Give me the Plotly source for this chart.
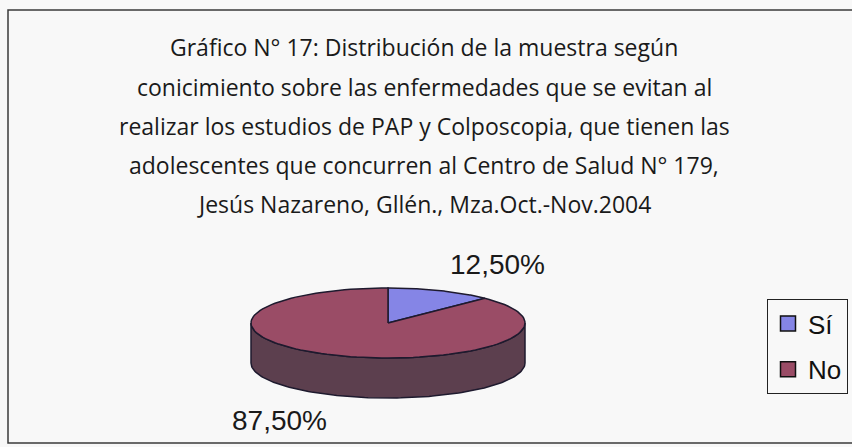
import numpy as np
import plotly.graph_objects as go

# ---- data ----
categories = ["Sí", "No"]
values = [12.5, 87.5]
title_lines = [
    "Gráfico N° 17: Distribución de la muestra según",
    "conicimiento sobre las enfermedades que se evitan al",
    "realizar los estudios de PAP y Colposcopia, que tienen las",
    "adolescentes que concurren al Centro de Salud N° 179,",
    "Jesús Nazareno, Gllén., Mza.Oct.-Nov.2004",
]

# ---- style / layout ----
W, H = 852, 447
top_colors = ["#8585e6", "#9a4c66"]
side_colors = ["#50508c", "#5c3f4e"]
edge = "#1e1a2e"
cx, cy, a, b, depth = 388, 323, 137, 35, 40
label_xy = [(497, 264), (279, 420)]
title_y = [47, 86.5, 126, 165, 204]
bg = "#f8f8f8"

total = sum(values)
angles = []
s = 0.0
for v in values:
    e = s + 360.0 * v / total
    angles.append((s, e))
    s = e


def arc(t1, t2, dy=0.0, n=120):
    th = np.radians(np.linspace(t1, t2, n))
    return list(cx + a * np.sin(th)), list(cy - b * np.cos(th) + dy)


fig = go.Figure()

# side walls (front half only)
for i, (t1, t2) in enumerate(angles):
    lo, hi = max(t1, 90), min(t2, 270)
    if hi > lo:
        x1, y1 = arc(lo, hi)
        x2, y2 = arc(hi, lo, depth)
        fig.add_trace(go.Scatter(
            x=x1 + x2 + [x1[0]], y=y1 + y2 + [y1[0]], mode="lines",
            fill="toself", fillcolor=side_colors[i],
            line=dict(color=edge, width=1.5), showlegend=False, hoverinfo="skip"))

# top faces
for i, (t1, t2) in enumerate(angles):
    xa, ya = arc(t1, t2)
    fig.add_trace(go.Scatter(
        x=[cx] + xa + [cx], y=[cy] + ya + [cy], mode="lines",
        fill="toself", fillcolor=top_colors[i],
        line=dict(color=edge, width=1.5), showlegend=False,
        hovertemplate=f"{categories[i]}: {values[i]:.2f}%<extra></extra>"))

# legend entries
for i, c in enumerate(categories):
    fig.add_trace(go.Scatter(
        x=[None], y=[None], mode="markers", name=c, legendgroup=c,
        marker=dict(symbol="square", size=15, color=top_colors[i],
                    line=dict(color="#111", width=1.5))))

# percentage labels
for i, v in enumerate(values):
    txt = f"{v:.2f}".replace(".", ",") + "%"
    fig.add_annotation(x=label_xy[i][0], y=label_xy[i][1], text=txt,
                       showarrow=False, xanchor="center", yanchor="middle",
                       font=dict(family="Arial, Liberation Sans", size=28, color="#1a1a1a"))

# title lines
for ln, yy in zip(title_lines, title_y):
    fig.add_annotation(x=424, y=yy, text=ln, showarrow=False,
                       xanchor="center", yanchor="middle",
                       font=dict(family="Open Sans", size=23, color="#1a1a1a"))

# outer frame
fig.add_shape(type="rect", x0=8, y0=10, x1=870, y1=443,
              line=dict(color="#3a3a3a", width=1.5), layer="below")

fig.update_layout(
    width=W, height=H, margin=dict(l=0, r=0, t=0, b=0, autoexpand=False),
    paper_bgcolor=bg, plot_bgcolor=bg,
    xaxis=dict(range=[0, W], visible=False, fixedrange=True),
    yaxis=dict(range=[H, 0], visible=False, fixedrange=True),
    showlegend=True,
    legend=dict(x=767 / W, y=1 - 299 / H, xanchor="left", yanchor="top",
                bgcolor=bg, bordercolor="#222", borderwidth=1,
                font=dict(family="Arial, Liberation Sans", size=26, color="#111"),
                tracegroupgap=9, traceorder="grouped", itemwidth=30),
)

fig.write_html("out.html", config={"displayModeBar": False},
               post_script="document.body.style.margin='0';document.body.style.overflow='hidden';")
